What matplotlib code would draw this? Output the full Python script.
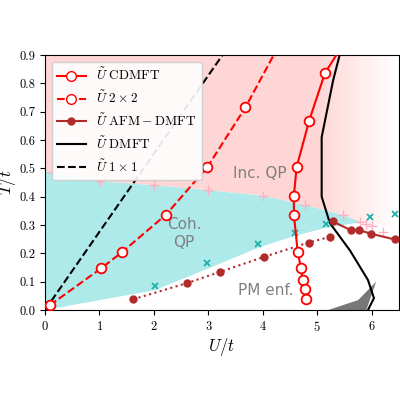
import numpy as np
import matplotlib
matplotlib.use('Agg')
import matplotlib.pyplot as plt
from matplotlib.colors import LinearSegmentedColormap
from matplotlib.lines import Line2D

plt.rcParams['mathtext.fontset'] = 'cm'
plt.rcParams['font.family'] = 'cmr10'
plt.rcParams['axes.formatter.use_mathtext'] = True
plt.rcParams['axes.unicode_minus'] = False

cd_U = [5.14, 4.85, 4.62, 4.57, 4.57, 4.64, 4.70, 4.73, 4.78, 4.80]
cd_T = [0.836, 0.668, 0.504, 0.403, 0.336, 0.205, 0.147, 0.105, 0.073, 0.040]
cd_top_U = [5.35]; cd_top_T = [0.9]
p22_U = [0.09, 1.03, 1.42, 2.22, 2.98, 3.68]
p22_T = [0.017, 0.147, 0.205, 0.336, 0.504, 0.715]
p22_top_U = [4.2]; p22_top_T = [0.9]
afm_dot_U = [1.62, 2.61, 3.22, 4.03, 4.84, 5.23]
afm_dot_T = [0.038, 0.095, 0.135, 0.188, 0.238, 0.258]
afm_sol_U = [5.28, 5.61, 5.77, 5.99, 6.42]
afm_sol_T = [0.313, 0.282, 0.282, 0.269, 0.249]
dmft_U = [5.41, 5.29, 5.08, 5.08, 5.23, 5.6, 5.93, 6.04, 5.93]
dmft_T = [0.9, 0.81, 0.61, 0.40, 0.307, 0.21, 0.106, 0.042, 0.0]
one_U = [0.0, 3.26]; one_T = [0.0, 0.9]
plus_U = [0.12, 1.01, 2.0, 3.0, 4.0, 4.78, 5.47, 5.79, 5.9, 6.0, 6.2]
plus_T = [0.488, 0.455, 0.441, 0.424, 0.404, 0.371, 0.336, 0.312, 0.304, 0.296, 0.276]
x_U = [2.02, 2.98, 3.92, 4.59, 5.16, 5.96, 6.42]
x_T = [0.085, 0.167, 0.233, 0.273, 0.302, 0.329, 0.339]
coh_top_U = [0.0, 1.0, 2.0, 3.0, 4.0, 4.78, 5.47, 5.8]
coh_top_T = [0.49, 0.455, 0.44, 0.423, 0.403, 0.37, 0.335, 0.31]
coh_bot_U = [5.8, 5.16, 4.59, 3.92, 2.98, 2.4, 2.02, 0.0]
coh_bot_T = [0.31, 0.29, 0.262, 0.22, 0.145, 0.10, 0.07, 0.0]
wedge_U = [5.2, 5.9, 6.08, 5.75]
wedge_T = [0.0, 0.0, 0.1, 0.035]

fig = plt.figure(figsize=(4, 4), dpi=100)
ax = fig.add_axes([0.1125, 0.225, 0.885, 0.6375])
ax.set_xlim(0, 6.5); ax.set_ylim(0, 0.9)

cmap = LinearSegmentedColormap.from_list('p', ['#ffd6d6', '#ffd6d6', '#ffffff'])
n0 = int(5.0/6.5*400)
grad = np.concatenate([np.zeros(n0), np.linspace(0.5, 1, 400 - n0)])
im = ax.imshow(grad[None, :], extent=[0, 6.5, 0, 0.9], aspect='auto', cmap=cmap, vmin=0, vmax=1, zorder=0)
clipU = coh_top_U + [6.5, 6.5, 0]
clipT = coh_top_T + [0.29, 0.9, 0.9]
poly = plt.Polygon(list(zip(clipU, clipT)), closed=True, transform=ax.transData, fc='none', ec='none')
ax.add_patch(poly)
im.set_clip_path(poly)
ax.fill(coh_top_U + coh_bot_U, coh_top_T + coh_bot_T, color='#aeeaea', lw=0, zorder=1)
ax.fill(wedge_U, wedge_T, color='#777777', lw=0, zorder=2)

ax.plot(one_U, one_T, 'k--', lw=1.5, zorder=3)
ax.plot(dmft_U, dmft_T, 'k-', lw=1.5, zorder=3)
ax.plot(p22_U + p22_top_U, p22_T + p22_top_T, '--', color='red', lw=1.5, zorder=4)
ax.plot(p22_U, p22_T, 'o', color='red', mfc='white', ms=7, mew=1.3, zorder=5)
ax.plot(cd_top_U + cd_U, cd_top_T + cd_T, '-', color='red', lw=1.5, zorder=4)
ax.plot(cd_U, cd_T, 'o', color='red', mfc='white', ms=7, mew=1.3, zorder=5)
ax.plot(afm_dot_U, afm_dot_T, ':', color='#b22b2b', marker='o', ms=5, lw=1.5, zorder=4)
ax.plot(afm_sol_U, afm_sol_T, '-', color='#b22b2b', marker='o', ms=5, lw=1.5, zorder=4)
ax.plot(plus_U, plus_T, '+', color='#ffb0c0', ms=7, zorder=3)
ax.plot(x_U, x_T, 'x', color='#20b0a8', ms=5, mew=1.3, zorder=3)

ax.text(3.95, 0.48, 'Inc. QP', family='DejaVu Sans', color='gray', fontsize=11, ha='center', va='center')
ax.text(2.55, 0.27, 'Coh.\nQP', family='DejaVu Sans', color='gray', fontsize=11, ha='center', va='center')
ax.text(4.05, 0.07, 'PM enf.', family='DejaVu Sans', color='gray', fontsize=11, ha='center', va='center')

h = [Line2D([], [], color='red', marker='o', mfc='white', ms=7, lw=1.5),
     Line2D([], [], color='red', ls='--', marker='o', mfc='white', ms=7, lw=1.5),
     Line2D([], [], color='#b22b2b', marker='o', ms=5, lw=1.5),
     Line2D([], [], color='k', lw=1.5),
     Line2D([], [], color='k', ls='--', lw=1.5)]
labels = [r'$\tilde{U}\ \mathrm{CDMFT}$', r'$\tilde{U}\ 2\times2$', r'$\tilde{U}\ \mathrm{AFM-DMFT}$',
          r'$\tilde{U}\ \mathrm{DMFT}$', r'$\tilde{U}\ 1\times1$']
ax.legend(h, labels, loc='upper left', fontsize=9.5, framealpha=0.9, handlelength=2.2)

ax.set_xticks([0, 1, 2, 3, 4, 5, 6])
ax.set_yticks(np.arange(0, 0.91, 0.1))
ax.set_yticklabels(['0.0','0.1','0.2','0.3','0.4','0.5','0.6','0.7','0.8','0.9'])
ax.set_xlabel(r'$U/t$', fontsize=12, labelpad=2)
ax.set_ylabel(r'$T/t$', fontsize=12, labelpad=1)
ax.tick_params(labelsize=9)
fig.savefig('out.png', dpi=100)
